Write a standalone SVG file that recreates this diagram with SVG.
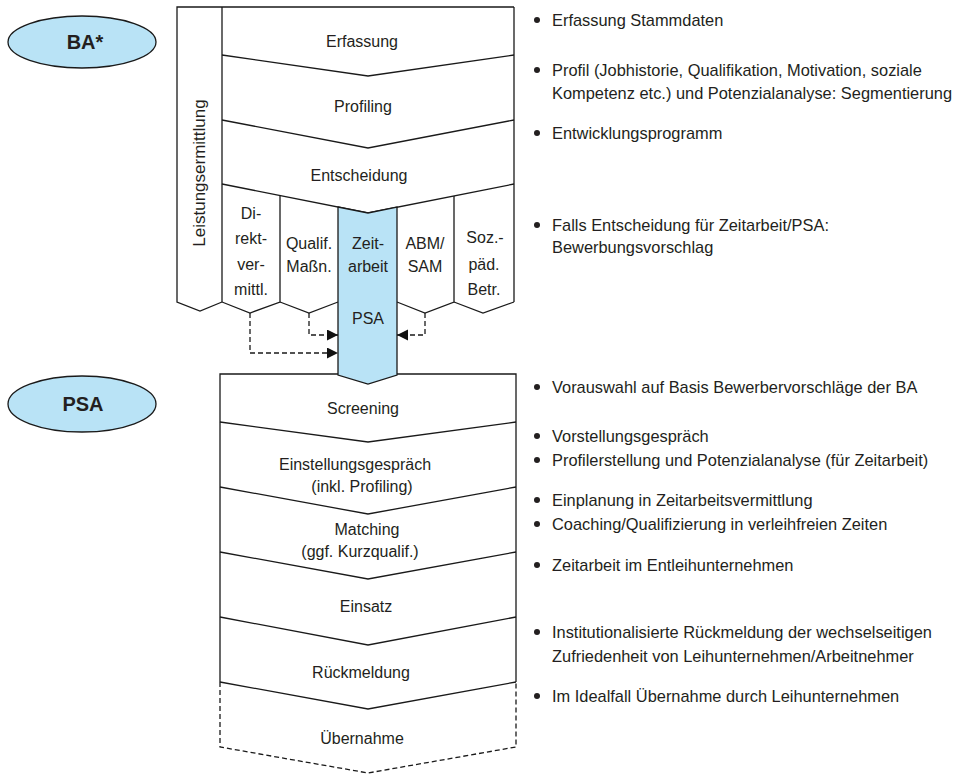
<svg xmlns="http://www.w3.org/2000/svg" width="957" height="774" viewBox="0 0 957 774">
<defs>
<style>
.ln{fill:none;stroke:#1a1a1a;stroke-width:1.3;stroke-linejoin:miter}
.ds{fill:none;stroke:#1a1a1a;stroke-width:1.3;stroke-dasharray:5 3}
.t{font-family:"Liberation Sans",Arial,sans-serif;font-size:16px;fill:#231f20}
.n{font-size:16.4px}
.c{text-anchor:middle}
.b{font-family:"Liberation Sans",Arial,sans-serif;font-size:20px;font-weight:bold;fill:#231f20;text-anchor:middle}
.blue{fill:#b9e3f6;stroke:#1a1a1a;stroke-width:1.3}
.dot{fill:#231f20}
</style>
<marker id="ah" markerUnits="userSpaceOnUse" markerWidth="12" markerHeight="12" refX="11" refY="5.5" orient="auto">
<path d="M0,0 L11,5.5 L0,11 z" fill="#111"/>
</marker>
</defs>
<rect width="957" height="774" fill="#fff"/>

<g id="ellipse-ba">
<ellipse class="blue" cx="82" cy="42" rx="74" ry="26"/>
<text class="b" x="85" y="49">BA*</text>
</g>
<g id="ellipse-psa">
<ellipse class="blue" cx="82" cy="404" rx="74" ry="28"/>
<text class="b" x="83" y="411">PSA</text>
</g>

<g id="ba-frame">
<path class="ln" d="M514,7 L177,7 L177,302 L200,311 L222,302"/>
<path class="ln" d="M222,7 L222,302"/>
<path class="ln" d="M514,7 L514,302"/>
</g>
<g id="leistungsermittlung">
<text class="t c" transform="translate(205,173) rotate(-90)" style="font-size:17px">Leistungsermittlung</text>
</g>
<g id="erfassung">
<path class="ln" d="M222,55 L368,76 L514,55"/>
<text class="t c" x="362" y="47">Erfassung</text>
</g>
<g id="profiling">
<path class="ln" d="M222,120 L368,148 L514,120"/>
<text class="t c" x="363" y="112">Profiling</text>
</g>
<g id="entscheidung">
<path class="ln" d="M222,184 L368,213 L514,184"/>
<text class="t c" x="359" y="181">Entscheidung</text>
</g>
<g id="direktvermittlung">
<path class="ln" d="M222,302 L250,313 L280,302 L280,195.5"/>
<text class="t c" x="251" y="219">Di-</text>
<text class="t c" x="251" y="244">rekt-</text>
<text class="t c" x="251" y="270">ver-</text>
<text class="t c" x="251" y="295">mittl.</text>
</g>
<g id="qualif">
<path class="ln" d="M280,302 L309,313 L338,302"/>
<text class="t c" x="309" y="249">Qualif.</text>
<text class="t c" x="309" y="272">Maßn.</text>
</g>
<g id="abm">
<path class="ln" d="M397,302 L425,313 L454,302 L454,196"/>
<text class="t c" x="425" y="249">ABM/</text>
<text class="t c" x="425" y="272">SAM</text>
</g>
<g id="sozpaed">
<path class="ln" d="M454,302 L483,313 L514,302"/>
<text class="t c" x="485" y="243">Soz.-</text>
<text class="t c" x="484" y="270">päd.</text>
<text class="t c" x="484" y="295">Betr.</text>
</g>

<g id="psa-frame">
<path class="ln" d="M220,682 L220,374 L516,374 L516,682"/>
<path class="ds" d="M220,682 L220,747 L368,773 L516,747 L516,682"/>
</g>
<g id="screening">
<path class="ln" d="M220,422 L368,442 L516,422"/>
<text class="t c" x="363" y="414">Screening</text>
</g>
<g id="einstellungsgespraech">
<path class="ln" d="M220,487 L368,514 L516,487"/>
<text class="t c" x="355" y="470">Einstellungsgespräch</text>
<text class="t c" x="362" y="492">(inkl. Profiling)</text>
</g>
<g id="matching">
<path class="ln" d="M220,552 L368,579 L516,552"/>
<text class="t c" x="367" y="535">Matching</text>
<text class="t c" x="360" y="557">(ggf. Kurzqualif.)</text>
</g>
<g id="einsatz">
<path class="ln" d="M220,617 L368,645 L516,617"/>
<text class="t c" x="366" y="612">Einsatz</text>
</g>
<g id="rueckmeldung">
<path class="ln" d="M220,682 L368,709 L516,682"/>
<text class="t c" x="361" y="678">Rückmeldung</text>
</g>
<g id="uebernahme">
<text class="t c" x="362" y="744">Übernahme</text>
</g>

<g id="zeitarbeit-psa">
<polygon class="blue" points="338,207 368,213 397,207 397,375 368,384 338,375"/>
<text class="t c" x="368" y="249">Zeit-</text>
<text class="t c" x="368" y="272">arbeit</text>
<text class="t c" x="368" y="324">PSA</text>
</g>

<g id="connectors">
<path class="ds" d="M250,313 L250,353 L338,353" marker-end="url(#ah)"/>
<path class="ds" d="M309,313 L309,335 L338,335" marker-end="url(#ah)"/>
<path class="ds" d="M425,313 L425,335 L397,335" marker-end="url(#ah)"/>
</g>

<g id="notes-ba">
<circle class="dot" cx="537" cy="20" r="3"/>
<text class="t n" x="552" y="26">Erfassung Stammdaten</text>
<circle class="dot" cx="537" cy="70" r="3"/>
<text class="t n" x="552" y="76">Profil (Jobhistorie, Qualifikation, Motivation, soziale</text>
<text class="t n" x="552" y="99">Kompetenz etc.) und Potenzialanalyse: Segmentierung</text>
<circle class="dot" cx="537" cy="133" r="3"/>
<text class="t n" x="552" y="139">Entwicklungsprogramm</text>
<circle class="dot" cx="537" cy="225" r="3"/>
<text class="t n" x="552" y="231">Falls Entscheidung für Zeitarbeit/PSA:</text>
<text class="t n" x="552" y="253">Bewerbungsvorschlag</text>
</g>
<g id="notes-psa">
<circle class="dot" cx="537" cy="387" r="3"/>
<text class="t n" x="552" y="393">Vorauswahl auf Basis Bewerbervorschläge der BA</text>
<circle class="dot" cx="537" cy="436" r="3"/>
<text class="t n" x="552" y="442">Vorstellungsgespräch</text>
<circle class="dot" cx="537" cy="460" r="3"/>
<text class="t n" x="552" y="466">Profilerstellung und Potenzialanalyse (für Zeitarbeit)</text>
<circle class="dot" cx="537" cy="500" r="3"/>
<text class="t n" x="552" y="506">Einplanung in Zeitarbeitsvermittlung</text>
<circle class="dot" cx="537" cy="524" r="3"/>
<text class="t n" x="552" y="530">Coaching/Qualifizierung in verleihfreien Zeiten</text>
<circle class="dot" cx="537" cy="565" r="3"/>
<text class="t n" x="552" y="571">Zeitarbeit im Entleihunternehmen</text>
<circle class="dot" cx="537" cy="632" r="3"/>
<text class="t n" x="552" y="638">Institutionalisierte Rückmeldung der wechselseitigen</text>
<text class="t n" x="552" y="662">Zufriedenheit von Leihunternehmen/Arbeitnehmer</text>
<circle class="dot" cx="537" cy="696" r="3"/>
<text class="t n" x="552" y="702">Im Idealfall Übernahme durch Leihunternehmen</text>
</g>
</svg>
